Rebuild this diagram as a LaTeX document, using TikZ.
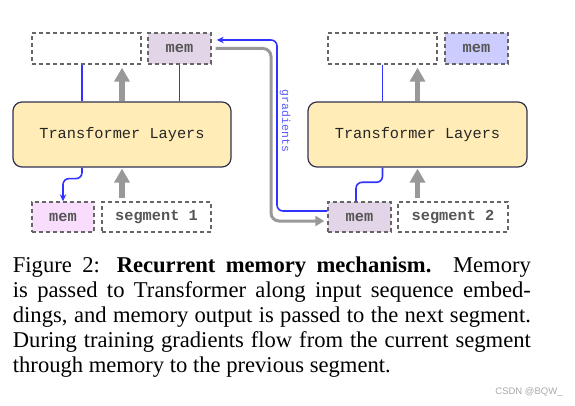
\documentclass[tikz,border=0pt]{standalone}
\usepackage{fontspec}
\setmainfont{Liberation Serif}
\newfontfamily\monofont{Liberation Mono}
\newfontfamily\wmfont{Liberation Sans}
\usetikzlibrary{arrows.meta}
\definecolor{bl}{RGB}{51,51,255}
\definecolor{gradc}{RGB}{90,90,255}
\definecolor{gr}{RGB}{153,153,153}
\definecolor{dashc}{RGB}{102,102,102}
\definecolor{memp}{RGB}{225,213,231}
\definecolor{memk}{RGB}{248,222,252}
\definecolor{memb}{RGB}{204,204,255}
\definecolor{trf}{RGB}{255,236,182}
\definecolor{trd}{RGB}{50,50,80}
\definecolor{txtc}{RGB}{85,85,85}
\definecolor{wmc}{RGB}{170,170,170}
\tikzset{
  dbox/.style={draw=dashc, dash pattern=on 4pt off 3pt, line width=1.4pt, minimum height=31pt, inner sep=0pt, font=\monofont\bfseries\fontsize{15.3}{16}\selectfont, text=txtc},
  trbox/.style={draw=trd, fill=trf, rounded corners=9pt, line width=1.2pt, minimum width=218pt, minimum height=65pt, inner sep=0pt, font=\monofont\fontsize{15.3}{17}\selectfont, text=black!85},
  bline/.style={draw=bl, line width=1.6pt},
  garrow/.style={draw=gr, line width=5.5pt, -{Triangle[width=15pt,length=14pt]}},
  gline/.style={draw=gr, line width=3pt, rounded corners=8pt, -{Triangle[width=10pt,length=9pt]}},
  btip/.style={-{Stealth[length=7pt,width=6.5pt]}}
}
\begin{document}
\begin{tikzpicture}[x=1pt,y=-1pt]
\useasboundingbox[fill=white] (0,0) rectangle (575,406);
% left column
\node[dbox, minimum width=109pt] (topL) at (86.5,48.5) {};
\node[dbox, fill=memp, minimum width=63pt] (memTL) at (179.5,48.5) {mem};
\node[trbox] (trL) at (122,134.5) {Transformer Layers};
\node[dbox, fill=memk, minimum width=62pt, minimum height=30pt] (memBL) at (63,217) {mem};
\node[dbox, minimum width=109pt, minimum height=30pt] (seg1) at (156.5,217) {segment 1};
% right column
\node[dbox, minimum width=109pt] (topR) at (382.5,48.5) {};
\node[dbox, fill=memb, minimum width=63pt] (memTR) at (476.5,48.5) {mem};
\node[trbox, minimum width=219pt] (trR) at (417.5,134.5) {Transformer Layers};
\node[dbox, fill=memp, minimum width=63pt, minimum height=30pt] (memBR) at (359.5,217) {mem};
\node[dbox, minimum width=110pt, minimum height=30pt] (seg2) at (453,217) {segment 2};
% gray vertical arrows
\draw[garrow] (trL.north) -- ([yshift=-3pt]topL.south -| trL.north);
\draw[garrow] ([yshift=3pt]seg1.north -| trL.south) -- ([yshift=-1pt]trL.south);
\draw[garrow] (trR.north) -- ([yshift=-3pt]topR.south -| trR.north);
\draw[garrow] ([yshift=3pt]seg2.north -| trR.south) -- ([yshift=-1pt]trR.south);
% blue lines
\draw[bline] ([xshift=-4.5pt]topL.south) -- ([xshift=-4.5pt]topL.south |- trL.north);
\draw[bline] (memTL.south) -- (memTL.south |- trL.north);
\draw[bline] (topR.south) -- (topR.south |- trR.north);
\draw[bline, btip, rounded corners=6pt] ([xshift=-4.5pt]topL.south |- trL.south) -- ++(0,11) -| (memBL.north);
\draw[bline, rounded corners=6pt] ([xshift=-3.5pt]memBR.north) -- ++(0,-19) -| (topR.south |- trR.south);
% recurrent connections
\coordinate (bcorner) at (277,40);
\coordinate (gcorner) at (271,221);
\draw[bline, btip, rounded corners=6pt] ([yshift=6pt]memBR.west) -| (bcorner) -- ([xshift=5pt,yshift=8.5pt]memTL.east);
\draw[gline] ([xshift=4pt]memTL.east) -| (gcorner) -- ([xshift=-3pt,yshift=-4pt]memBR.west);
\node[rotate=-90, font=\monofont\fontsize{11.5}{12}\selectfont, text=gradc, inner sep=0pt] (grad) at (285,121) {gradients};
% caption
\node[anchor=north west, inner sep=0pt, text width=518pt, align=justify, font=\fontsize{22.6}{25}\selectfont] (cap) at (12.7,256.3) {\noindent Figure 2: \textbf{Recurrent memory mechanism.} Memory\linebreak is passed to Transformer along input sequence embed-\linebreak dings, and memory output is passed to the next segment.\linebreak During training gradients flow from the current segment\linebreak through memory to the previous segment.};
\node[font=\wmfont\fontsize{9.5}{10}\selectfont, text=wmc, inner sep=0pt] (wm) at (529,391.5) {CSDN @BQW\_};
\end{tikzpicture}
\end{document}
